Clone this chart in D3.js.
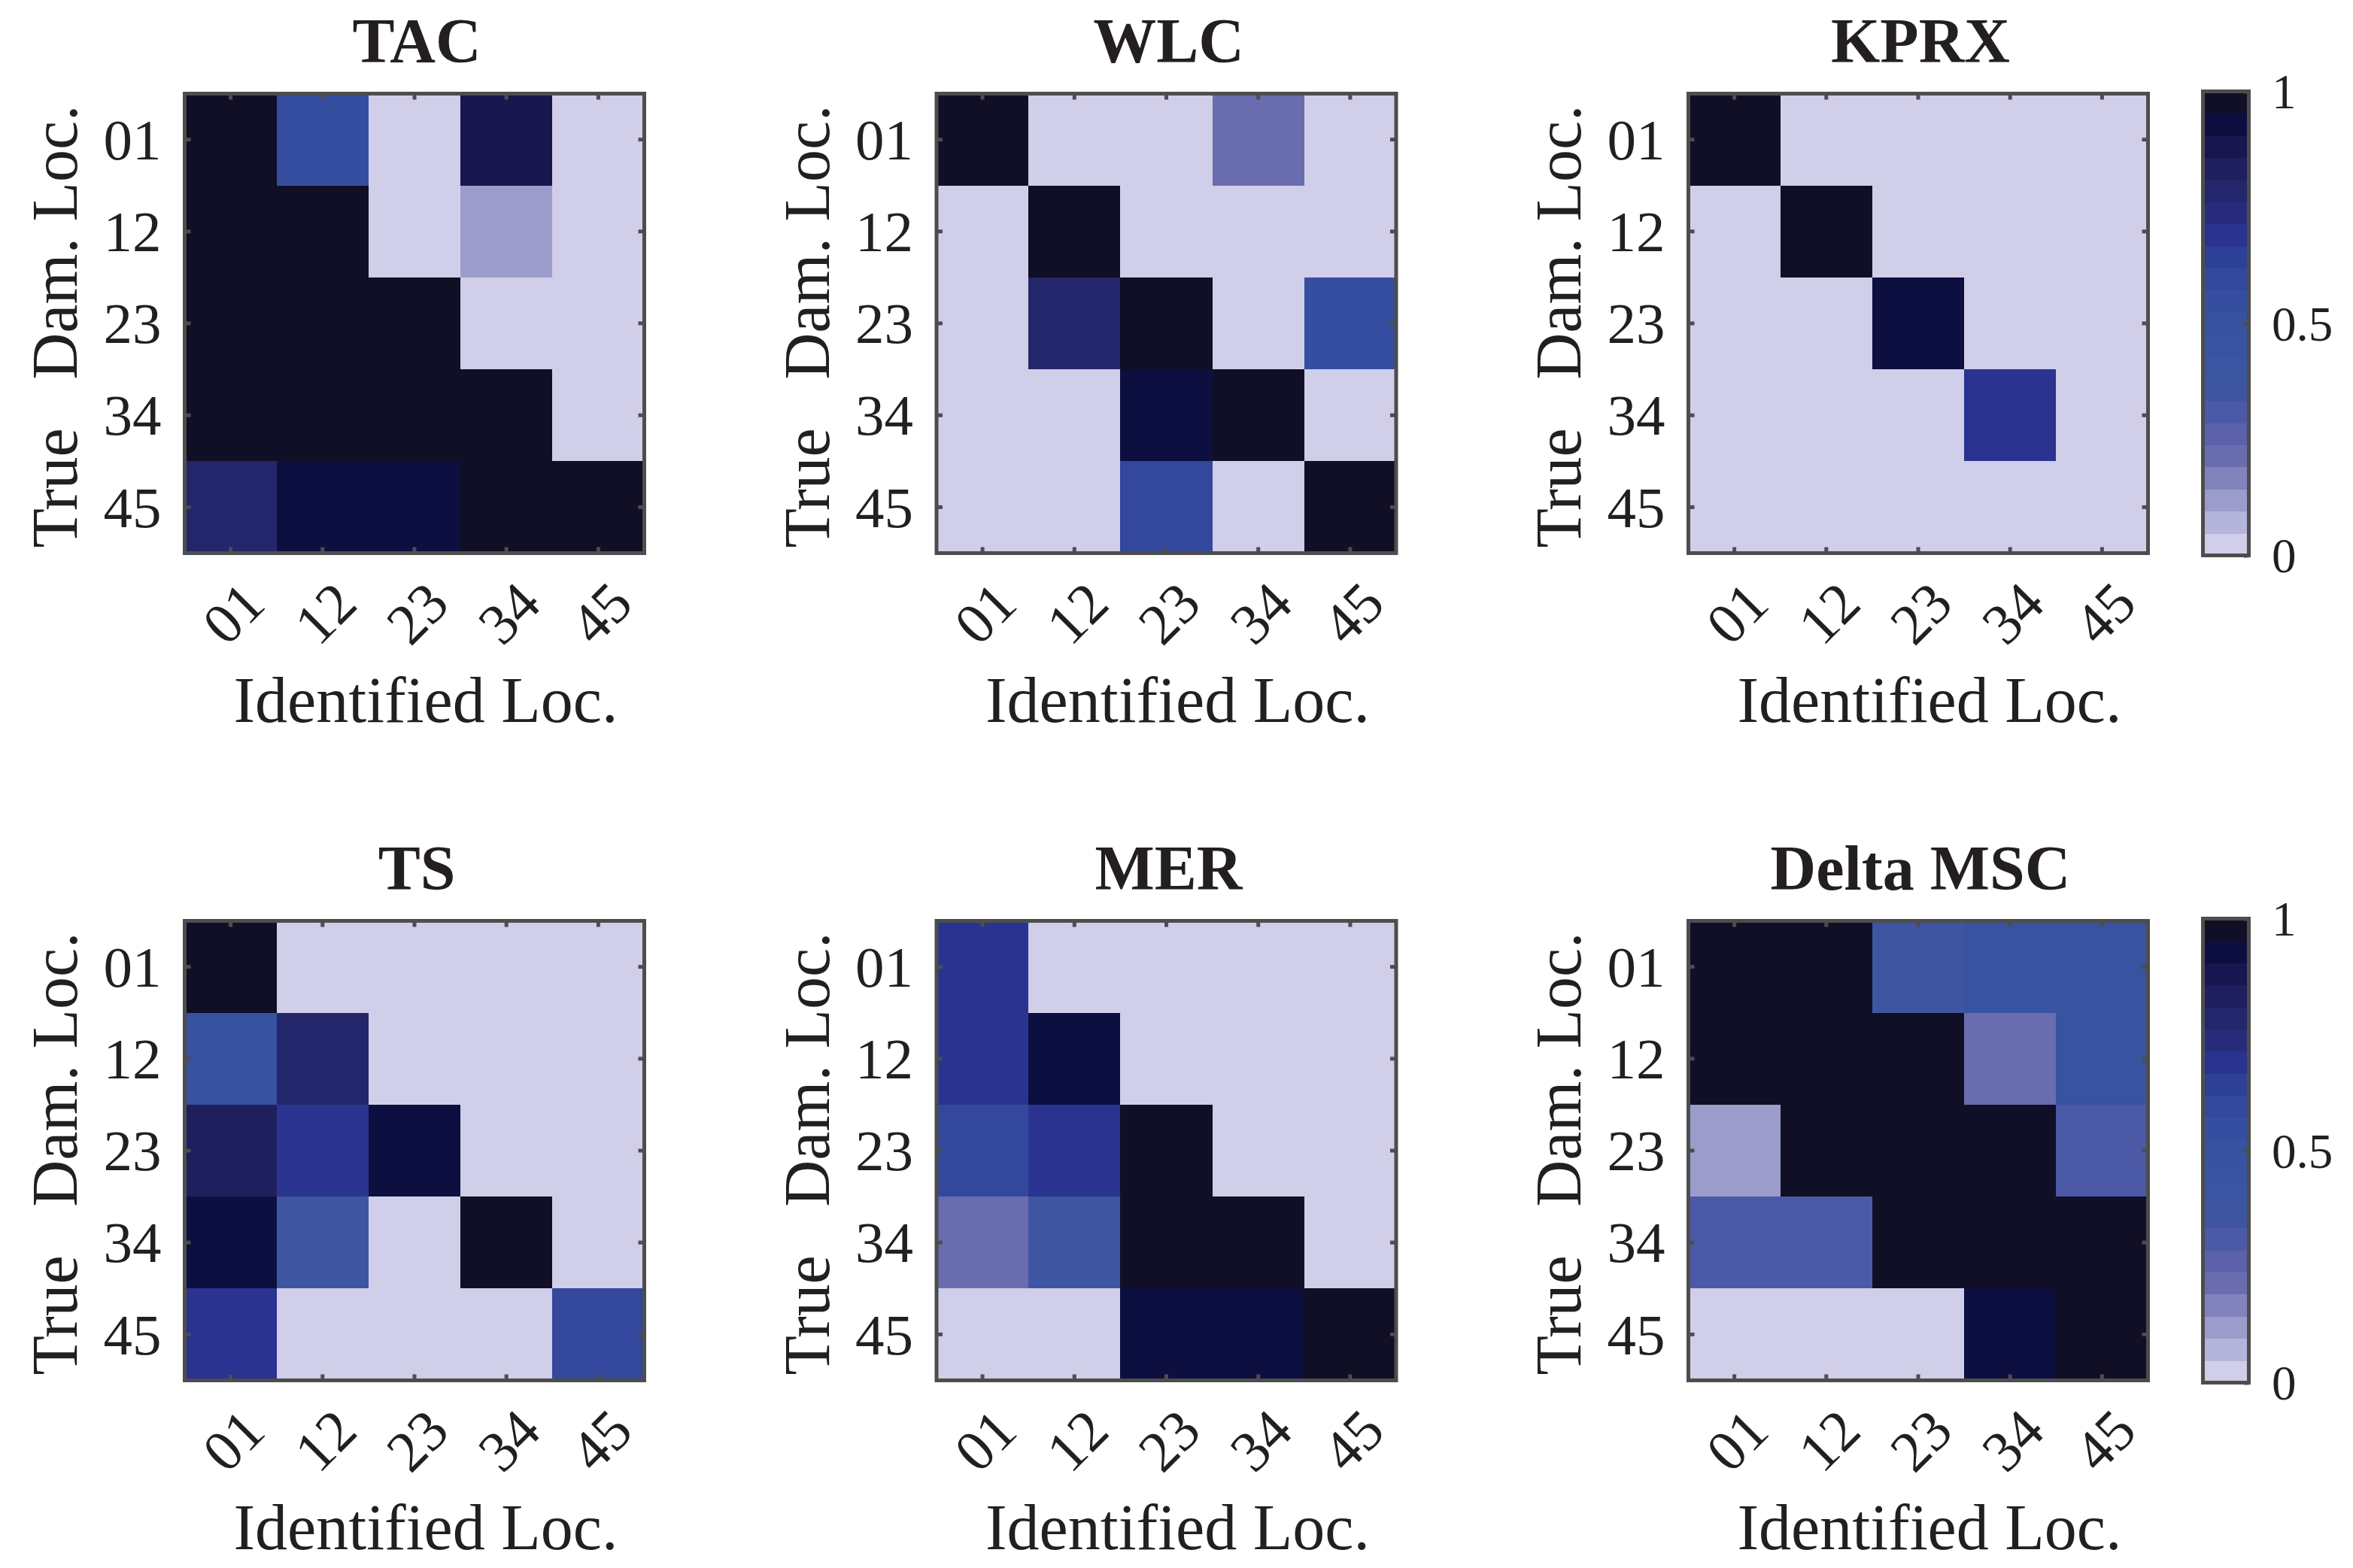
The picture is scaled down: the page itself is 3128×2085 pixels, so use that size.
<!DOCTYPE html>
<html>
<head>
<meta charset="utf-8">
<script src="https://cdn.jsdelivr.net/npm/d3@7"></script>
<style>
  html, body { margin: 0; padding: 0; background: #ffffff; }
  svg { display: block; }
  text { font-family: "Liberation Serif", "Times New Roman", serif; fill: #231f20; }
</style>
</head>
<body>
<script>
// ---------------- DATA ----------------
const xCategories = ["01", "12", "23", "34", "45"];   // Identified Loc.
const yCategories = ["01", "12", "23", "34", "45"];   // True Dam. Loc.
const panelTitles = ["TAC", "WLC", "KPRX", "TS", "MER", "Delta MSC"];

const tacValues = [
  [1.00, 0.55, 0.00, 0.90, 0.00],
  [1.00, 1.00, 0.00, 0.10, 0.00],
  [1.00, 1.00, 1.00, 0.00, 0.00],
  [1.00, 1.00, 1.00, 1.00, 0.00],
  [0.80, 0.95, 0.95, 1.00, 1.00]
];
const wlcValues = [
  [1.00, 0.00, 0.00, 0.20, 0.00],
  [0.00, 1.00, 0.00, 0.00, 0.00],
  [0.00, 0.80, 1.00, 0.00, 0.55],
  [0.00, 0.00, 0.95, 1.00, 0.00],
  [0.00, 0.00, 0.60, 0.00, 1.00]
];
const kprxValues = [
  [1.00, 0.00, 0.00, 0.00, 0.00],
  [0.00, 1.00, 0.00, 0.00, 0.00],
  [0.00, 0.00, 0.95, 0.00, 0.00],
  [0.00, 0.00, 0.00, 0.70, 0.00],
  [0.00, 0.00, 0.00, 0.00, 0.00]
];
const tsValues = [
  [1.00, 0.00, 0.00, 0.00, 0.00],
  [0.50, 0.80, 0.00, 0.00, 0.00],
  [0.85, 0.70, 0.95, 0.00, 0.00],
  [0.95, 0.35, 0.00, 1.00, 0.00],
  [0.70, 0.00, 0.00, 0.00, 0.60]
];
const merValues = [
  [0.70, 0.00, 0.00, 0.00, 0.00],
  [0.70, 0.95, 0.00, 0.00, 0.00],
  [0.60, 0.70, 1.00, 0.00, 0.00],
  [0.20, 0.35, 1.00, 1.00, 0.00],
  [0.00, 0.00, 0.95, 0.95, 1.00]
];
const deltaMscValues = [
  [1.00, 1.00, 0.35, 0.45, 0.45],
  [1.00, 1.00, 1.00, 0.20, 0.45],
  [0.10, 1.00, 1.00, 1.00, 0.30],
  [0.30, 0.30, 1.00, 1.00, 1.00],
  [0.00, 0.00, 0.00, 0.95, 1.00]
];

// 21-level colormap, from value 0 (light) to value 1 (dark)
const colormap = [
  "#d0cee9", "#b5b4da", "#9c9ccb", "#8183bd", "#6a6cb0", "#5b61aa", "#4b59a6",
  "#3e56a1", "#3a55a1", "#3853a0", "#3753a0", "#354ea0", "#33489c", "#2c4096",
  "#2a3390", "#282b7b", "#24266b", "#201f5d", "#18164e", "#0c0f3f", "#100f25"
];
const colorbarTicks = [0, 0.5, 1];
const colorbarTickLabels = ["0", "0.5", "1"];

const xAxisTitle = "Identified Loc.";
const yAxisTitle = "True\u00A0\u00A0\u00A0Dam. Loc.";

// ---------------- LAYOUT ----------------
const W = 3128, H = 2085;
const size = 611;
const colLeft = [245.5, 1245, 2244.5];
const rowTop = [124.5, 1224.5];
const axisColor = "#4d4d4d";
const lineW = 5;
const tickLen = 8;

const panels = [
  { title: panelTitles[0], values: tacValues },
  { title: panelTitles[1], values: wlcValues },
  { title: panelTitles[2], values: kprxValues },
  { title: panelTitles[3], values: tsValues },
  { title: panelTitles[4], values: merValues },
  { title: panelTitles[5], values: deltaMscValues }
];

const color = d3.scaleQuantize().domain([0, 1]).range(colormap);

const svg = d3.select("body").append("svg")
  .attr("width", W).attr("height", H)
  .attr("viewBox", `0 0 ${W} ${H}`);

const x = d3.scaleBand().domain(xCategories).range([0, size]).padding(0);
const y = d3.scaleBand().domain(yCategories).range([0, size]).padding(0);

panels.forEach((p, i) => {
  const col = i % 3, row = Math.floor(i / 3);
  const g = svg.append("g").attr("transform", `translate(${colLeft[col]},${rowTop[row]})`);

  const cells = [];
  p.values.forEach((r, ri) => r.forEach((v, ci) => cells.push({ r: yCategories[ri], c: xCategories[ci], v })));

  g.selectAll("rect.cell").data(cells).enter().append("rect")
    .attr("class", "cell")
    .attr("x", d => x(d.c))
    .attr("y", d => y(d.r))
    .attr("width", x.bandwidth() + 0.5)
    .attr("height", y.bandwidth() + 0.5)
    .attr("fill", d => color(d.v))
    .attr("shape-rendering", "crispEdges");

  const styleAxis = sel => {
    sel.select(".domain").remove();
    sel.selectAll(".tick line").attr("stroke", axisColor).attr("stroke-width", lineW);
  };

  const bottom = g.append("g").attr("transform", `translate(0,${size})`)
    .call(d3.axisBottom(x).tickSize(-tickLen).tickPadding(0));
  styleAxis(bottom);
  bottom.selectAll(".tick text")
    .attr("y", null).attr("dy", "0.7em")
    .attr("text-anchor", "end")
    .attr("transform", "translate(11,33) rotate(-45)")
    .style("font-size", "77px")
    .attr("fill", "#231f20");

  const top = g.append("g").call(d3.axisTop(x).tickSize(-tickLen).tickFormat(""));
  styleAxis(top);

  const left = g.append("g").call(d3.axisLeft(y).tickSize(-tickLen).tickPadding(31));
  styleAxis(left);
  left.selectAll(".tick text")
    .attr("dy", "0.34em")
    .style("font-size", "77px")
    .attr("fill", "#231f20");

  const right = g.append("g").attr("transform", `translate(${size},0)`)
    .call(d3.axisRight(y).tickSize(-tickLen).tickFormat(""));
  styleAxis(right);

  g.append("rect")
    .attr("x", 0).attr("y", 0).attr("width", size).attr("height", size)
    .attr("fill", "none").attr("stroke", axisColor).attr("stroke-width", lineW);

  g.append("text")
    .attr("x", size / 2 + 3).attr("y", -41.5)
    .attr("text-anchor", "middle")
    .style("font-size", "84px").style("font-weight", "bold")
    .text(p.title);

  g.append("text")
    .attr("x", size / 2 + 15).attr("y", 835.5)
    .attr("text-anchor", "middle")
    .style("font-size", "86px")
    .text(xAxisTitle);

  g.append("text")
    .attr("transform", `translate(-143.5,${size / 2 + 4}) rotate(-90)`)
    .attr("text-anchor", "middle")
    .style("font-size", "86px")
    .text(yAxisTitle);
});

// ---------------- COLORBARS ----------------
const cbX = 2928.5, cbW = 61;
const cbTopOffset = -3, cbH = 617;
const levels = d3.range(colormap.length);

rowTop.forEach(rt => {
  const g = svg.append("g").attr("transform", `translate(${cbX},${rt + cbTopOffset})`);
  const cy = d3.scaleLinear().domain([0, 1]).range([cbH, 0]);
  const n = colormap.length;
  g.selectAll("rect.lvl").data(levels).enter().append("rect")
    .attr("class", "lvl")
    .attr("x", 0)
    .attr("width", cbW)
    .attr("y", d => cy((d + 1) / n))
    .attr("height", d => cy(d / n) - cy((d + 1) / n) + 0.5)
    .attr("fill", d => colormap[d])
    .attr("shape-rendering", "crispEdges");

  const ax = g.append("g").attr("transform", `translate(${cbW},0)`)
    .call(d3.axisRight(cy).tickValues(colorbarTicks)
      .tickFormat((d, i) => colorbarTickLabels[i])
      .tickSize(-7).tickPadding(30.5));
  ax.select(".domain").remove();
  ax.selectAll(".tick line").attr("stroke", axisColor).attr("stroke-width", lineW);
  ax.selectAll(".tick text").attr("dy", "0.34em").style("font-size", "65px").attr("fill", "#231f20");

  g.append("rect")
    .attr("x", 0).attr("y", 0).attr("width", cbW).attr("height", cbH)
    .attr("fill", "none").attr("stroke", axisColor).attr("stroke-width", lineW);
});
</script>
</body>
</html>
